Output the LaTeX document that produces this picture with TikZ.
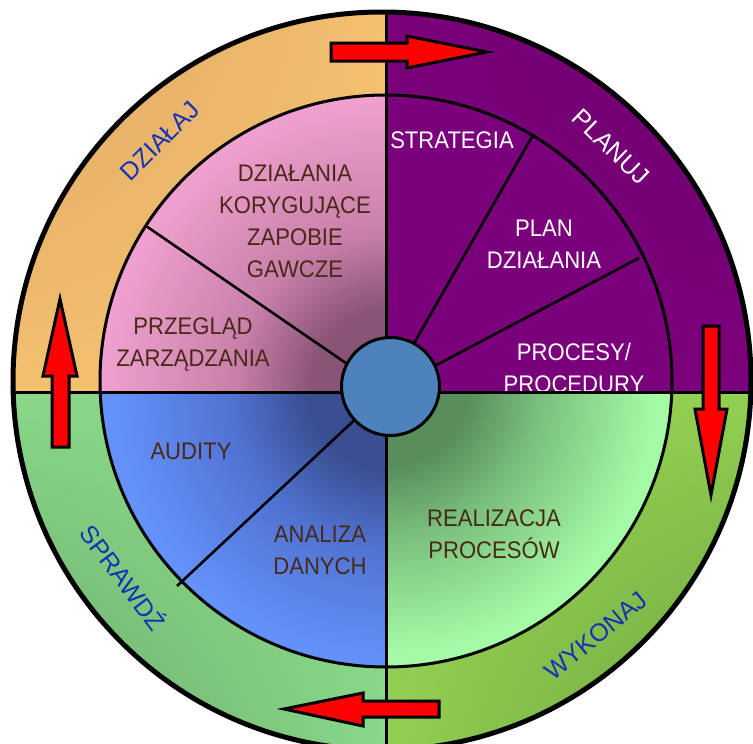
\documentclass[tikz,border=0pt]{standalone}
\usepackage{fontspec}
\setmainfont{Liberation Sans}
\newfontfamily\boxfont{Liberation Sans}[FakeStretch=0.92]
\newfontfamily\lblfont{Liberation Sans}
\usetikzlibrary{shadings,calc}
\definecolor{orangeL}{RGB}{243,193,112}
\definecolor{orangeD}{RGB}{218,163,98}
\definecolor{purp}{RGB}{123,0,123}
\definecolor{purpD}{RGB}{108,0,108}
\definecolor{lgreenL}{RGB}{137,216,137}
\definecolor{lgreenD}{RGB}{104,166,104}
\definecolor{rgreenL}{RGB}{146,208,82}
\definecolor{rgreenD}{RGB}{106,158,60}
\definecolor{pinkL}{RGB}{240,160,206}
\definecolor{pinkM}{RGB}{200,128,170}
\definecolor{pinkD}{RGB}{138,84,118}
\definecolor{blueL}{RGB}{100,145,250}
\definecolor{blueM}{RGB}{80,115,210}
\definecolor{blueD}{RGB}{58,78,145}
\definecolor{mintL}{RGB}{165,250,165}
\definecolor{mintM}{RGB}{122,192,124}
\definecolor{mintD}{RGB}{88,142,92}
\definecolor{hub}{RGB}{77,130,186}
\definecolor{txt}{RGB}{72,40,22}
\definecolor{lab}{RGB}{20,50,180}
\pgfdeclareradialshading{pinkrad}{\pgfpoint{0bp}{0bp}}{color(0bp)=(pinkD); color(6.5bp)=(pinkD); color(13bp)=(pinkM); color(24bp)=(pinkL); color(50bp)=(pinkL)}
\pgfdeclareradialshading{bluerad}{\pgfpoint{0bp}{0bp}}{color(0bp)=(blueD); color(7bp)=(blueD); color(13.5bp)=(blueM); color(23bp)=(blueL); color(50bp)=(blueL)}
\pgfdeclareradialshading{mintrad}{\pgfpoint{0bp}{0bp}}{color(0bp)=(mintD); color(6.5bp)=(mintD); color(12.5bp)=(mintM); color(22bp)=(mintL); color(50bp)=(mintL)}
\tikzset{
  intext/.style={font=\boxfont\fontsize{24}{32}\selectfont, text=txt, align=center, inner sep=0pt},
  whitetext/.style={intext, text=white},
  ringlabel/.style={font=\lblfont\fontsize{25}{28}\selectfont, inner sep=0pt},
  redarrow/.style={fill=red, draw=black, line width=3pt, line join=miter},
  divline/.style={draw=black, line width=3pt},
  spoke/.style={draw=black, line width=2.6pt},
}
\begin{document}
\begin{tikzpicture}[x=1pt,y=-1pt]
\useasboundingbox (0,0) rectangle (753,744);
\clip (0,0) rectangle (753,744);
\coordinate (C) at (386,381);
\coordinate (O) at (382,381);
\coordinate (H) at (390.5,386.5);
% outer ring quadrants
\begin{scope}
  \clip (O) circle (369);
  \shade[upper left=orangeD, upper right=orangeL, lower left=orangeL, lower right=orangeL] (0,0) rectangle (386,392);
  \shade[upper left=purp, upper right=purpD, lower left=purp, lower right=purp] (386,0) rectangle (753,392);
  \shade[upper left=lgreenL, upper right=lgreenL, lower left=lgreenD, lower right=lgreenL] (0,392) rectangle (386,750);
  \shade[upper left=rgreenL, upper right=rgreenL, lower left=rgreenL, lower right=rgreenD] (386,392) rectangle (753,750);
\end{scope}
% inner quadrants
\begin{scope}
  \clip (C) circle (286);
  \begin{scope}
    \clip (0,0) rectangle (386,392);
    \shade[shading=pinkrad] (H) circle (300);
  \end{scope}
  \fill[purp] (386,0) rectangle (753,392);
  \begin{scope}
    \clip (0,392) rectangle (386,750);
    \shade[shading=bluerad] (H) circle (300);
  \end{scope}
  \begin{scope}
    \clip (386,392) rectangle (753,750);
    \shade[shading=mintrad] (H) circle (300);
  \end{scope}
\end{scope}
% texts
\node[intext] (dzk) at (295,221) {DZIAŁANIA\\KORYGUJĄCE\\ZAPOBIE\\GAWCZE};
\node[intext] (prz) at (193,344.5) {PRZEGLĄD\\ZARZĄDZANIA};
\node[whitetext] (str) at (452,140) {STRATEGIA};
\node[whitetext] (pla) at (544,244.5) {PLAN\\DZIAŁANIA};
\node[whitetext] (pro) at (574,367.5) {PROCESY/\\PROCEDURY};
\node[intext] (aud) at (191,451) {AUDITY};
\node[intext] (ana) at (320,550) {ANALIZA\\DANYCH};
\node[intext] (rea) at (494,534) {REALIZACJA\\PROCESÓW};
% spokes
\coordinate (s1a) at (146,226); \coordinate (s1b) at (356,370);
\coordinate (s2a) at (533,135); \coordinate (s2b) at (409,352);
\coordinate (s3a) at (639,258); \coordinate (s3b) at (427,370);
\coordinate (s4a) at (177,586); \coordinate (s4b) at (363,412);
\draw[spoke] (s1a) -- (s1b);
\draw[spoke] (s2a) -- (s2b);
\draw[spoke] (s3a) -- (s3b);
\draw[spoke] (s4a) -- (s4b);
% dividing lines
\coordinate (vt) at (386,10); \coordinate (vb) at (386,752);
\coordinate (hl) at (12,392); \coordinate (hr) at (753,392);
\draw[divline] (vt) -- (vb);
\draw[divline] (hl) -- (hr);
\draw[divline] (C) circle (286);
\draw[line width=5pt] (O) circle (369);
% hub
\node[circle, draw=black, line width=3pt, fill=hub, minimum size=98pt, inner sep=0pt] (hubc) at (H) {};
% ring labels
\node[ringlabel, text=lab, rotate=45] (dzialaj) at (160,141) {DZIAŁAJ};
\node[ringlabel, text=white, rotate=-44] (planuj) at (611,147) {PLANUJ};
\node[ringlabel, text=lab, rotate=39.5] (wykonaj) at (596,636) {WYKONAJ};
\node[ringlabel, text=lab, rotate=-53] (sprawdz) at (124,577) {SPRAWDŹ};
% arrows
\draw[redarrow] (331,43) -- (407,43) -- (407,36) -- (487,52) -- (407,68) -- (407,61) -- (331,61) -- cycle;
\draw[redarrow] (703,326) -- (719,326) -- (719,409) -- (727,409) -- (711,495) -- (695,409) -- (703,409) -- cycle;
\draw[redarrow] (439,701) -- (363,701) -- (363,693) -- (284,709) -- (363,726) -- (363,717) -- (439,717) -- cycle;
\draw[redarrow] (52,447) -- (52,376) -- (43,376) -- (60,299) -- (77,376) -- (69,376) -- (69,447) -- cycle;
\end{tikzpicture}
\end{document}
